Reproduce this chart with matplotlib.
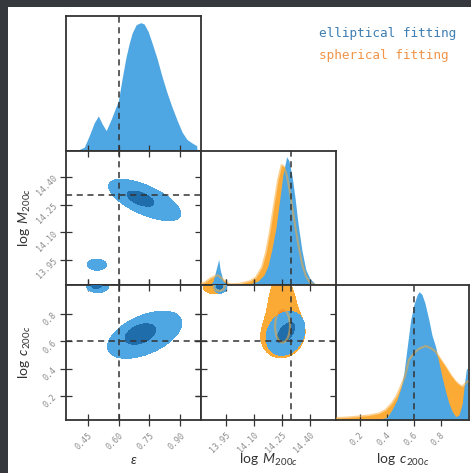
import numpy as np
import matplotlib
matplotlib.use('Agg')
import matplotlib.pyplot as plt
from matplotlib.patches import Rectangle

# ---------------- data ----------------
# 1D marginal: ellipticity (elliptical fitting only)
eps_x = [0.345, 0.352, 0.400, 0.434, 0.458, 0.482, 0.502, 0.521, 0.540, 0.565,
         0.584, 0.599, 0.618, 0.636, 0.652, 0.666, 0.686, 0.708, 0.724, 0.744,
         0.763, 0.787, 0.811, 0.836, 0.860, 0.884, 0.908, 0.932, 0.957, 0.979,
         0.981, 1.0]
eps_ell = [0.0, 0.0, 0.005, 0.03, 0.12, 0.22, 0.273, 0.21, 0.159, 0.25,
           0.33, 0.39, 0.57, 0.73, 0.84, 0.92, 0.985, 1.0, 0.99, 0.93,
           0.84, 0.72, 0.58, 0.45, 0.34, 0.24, 0.148, 0.09, 0.062, 0.041,
           0.0, 0.0]

# 1D marginal: log M200c
m_x_ell = [13.815, 13.864, 13.880, 13.896, 13.910, 13.918, 13.934, 13.961, 14.025,
           14.079, 14.121, 14.154, 14.175, 14.196, 14.218, 14.239, 14.255, 14.275,
           14.287, 14.304, 14.320, 14.336, 14.357, 14.378, 14.400, 14.427, 14.464, 14.54]
m_ell = [0.0, 0.0, 0.03, 0.12, 0.20, 0.12, 0.03, 0.005, 0.005,
         0.01, 0.03, 0.08, 0.15, 0.28, 0.45, 0.68, 0.86, 1.0,
         0.97, 0.85, 0.68, 0.48, 0.27, 0.12, 0.05, 0.01, 0.0, 0.0]
m_x_sph = [13.815, 13.837, 13.864, 13.891, 13.907, 13.928, 13.950, 13.971, 14.025,
           14.079, 14.111, 14.143, 14.164, 14.186, 14.207, 14.229, 14.248, 14.261,
           14.277, 14.293, 14.314, 14.336, 14.357, 14.378, 14.400, 14.427, 14.54]
m_sph = [0.01, 0.02, 0.05, 0.07, 0.075, 0.05, 0.02, 0.005, 0.01,
         0.03, 0.06, 0.14, 0.25, 0.42, 0.62, 0.82, 0.935, 0.92,
         0.85, 0.72, 0.52, 0.33, 0.17, 0.07, 0.02, 0.0, 0.0]

# 1D marginal: log c200c
c_x_ell = [0.025, 0.269, 0.343, 0.402, 0.439, 0.476, 0.506, 0.528, 0.550, 0.578,
           0.602, 0.624, 0.639, 0.661, 0.684, 0.713, 0.736, 0.763, 0.787, 0.810,
           0.837, 0.861, 0.884, 0.911, 0.936, 0.960, 0.976, 0.991, 0.998, 1.0]
c_ell = [0.0, 0.0, 0.005, 0.02, 0.08, 0.156, 0.25, 0.366, 0.55, 0.779,
         0.9, 0.97, 1.0, 0.98, 0.91, 0.779, 0.66, 0.571, 0.45, 0.337,
         0.22, 0.132, 0.07, 0.026, 0.04, 0.13, 0.28, 0.40, 0.40, 0.0]
c_x_sph = [0.025, 0.121, 0.269, 0.343, 0.393, 0.439, 0.476, 0.504, 0.536, 0.565,
           0.602, 0.639, 0.689, 0.728, 0.763, 0.800, 0.837, 0.874, 0.911, 0.936,
           0.960, 0.979, 0.998]
c_sph = [0.015, 0.02, 0.035, 0.05, 0.078, 0.13, 0.19, 0.259, 0.34, 0.468,
         0.52, 0.555, 0.577, 0.56, 0.532, 0.47, 0.413, 0.35, 0.299, 0.275,
         0.26, 0.28, 0.30]

# 2D credible regions, Gaussian components: (x0, y0, half-width x, half-width y, correlation)
em_ell_95 = [(0.727, 14.275, 0.175, 0.112, -0.66), (0.495, 13.925, 0.046, 0.030, 0.0)]
em_ell_68 = [(0.707, 14.282, 0.065, 0.041, -0.55)]
ec_ell_95 = [(0.727, 0.647, 0.180, 0.172, 0.50), (0.498, 1.000, 0.053, 0.045, 0.0)]
ec_ell_68 = [(0.706, 0.652, 0.074, 0.075, 0.40), (0.492, 1.005, 0.024, 0.020, 0.0)]
mc_ell_95 = [(14.269, 0.657, 0.104, 0.160, 0.20), (13.918, 0.995, 0.035, 0.045, 0.0)]
mc_ell_68 = [(14.271, 0.662, 0.047, 0.073, 0.55), (13.915, 1.000, 0.015, 0.020, 0.0)]
mc_sph_95 = [(14.255, 0.650, 0.118, 0.170, 0.10), (14.248, 0.930, 0.050, 0.130, 0.0),
             (13.886, 1.000, 0.059, 0.055, 0.0)]
mc_sph_68 = [(14.253, 0.711, 0.040, 0.120, 0.0), (13.912, 0.998, 0.030, 0.030, 0.0)]

# true values (dashed lines)
eps_true = 0.60
m_true = 14.30
c_true = 0.60

eps_ticks = [0.45, 0.60, 0.75, 0.90]
m_ticks = [13.95, 14.10, 14.25, 14.40]
c_ticks = [0.2, 0.4, 0.6, 0.8]
eps_labels = ['0.45', '0.60', '0.75', '0.90']
m_labels = ['13.95', '14.10', '14.25', '14.40']
c_labels = ['0.2', '0.4', '0.6', '0.8']

legend_labels = ['elliptical fitting', 'spherical fitting']

# ---------------- style ----------------
BLUE = '#4ea6e2'
BLUE_D = '#1f6eab'
ORANGE = '#fbab35'
ORANGE_D = '#f2892a'
SPINE = '#333333'
TICKLAB = '#8c8c8c'
MONO = 'DejaVu Sans Mono'

plt.rcParams['mathtext.fontset'] = 'custom'
plt.rcParams['mathtext.rm'] = 'Lato'
plt.rcParams['mathtext.it'] = 'Lato:italic'

EPS_LIM = (0.345, 1.0)
M_LIM = (13.815, 14.54)
C_LIM = (0.025, 1.01)

W, H = 471, 473
fig = plt.figure(figsize=(W / 100, H / 100), dpi=100)
fig.patch.set_facecolor('#35383d')
fig.add_artist(Rectangle((8 / W, 0), 1, 1 - 7 / H, transform=fig.transFigure,
                         facecolor='white', edgecolor='none', zorder=-5))

col_x = [66, 201, 336]
col_w = [135, 135, 133]
row_y = [16, 151, 285]
row_h = [135, 134, 135]


def make_ax(r, c):
    ax = fig.add_axes([col_x[c] / W, 1 - (row_y[r] + row_h[r]) / H,
                       col_w[c] / W, row_h[r] / H])
    for s in ax.spines.values():
        s.set_color(SPINE)
        s.set_linewidth(1.3)
    ax.tick_params(direction='inout', length=8, width=0.9, color=SPINE,
                   labelsize=6, labelcolor=TICKLAB)
    return ax


def field(comps, X, Y):
    F = np.zeros_like(X)
    for x0, y0, hx, hy, rho in comps:
        u = (X - x0) / hx
        v = (Y - y0) / hy
        F += np.exp(-0.5 * (u * u - 2 * rho * u * v + v * v) / (1 - rho * rho))
    return F


LEV = np.exp(-0.5)


def grid(xlim, ylim):
    gx = np.linspace(xlim[0], xlim[1], 400)
    gy = np.linspace(ylim[0], ylim[1], 400)
    return np.meshgrid(gx, gy)


def fill_region(ax, comps, xlim, ylim, color, z):
    X, Y = grid(xlim, ylim)
    ax.contourf(X, Y, field(comps, X, Y), levels=[LEV, 1e9], colors=[color], zorder=z)


def line_region(ax, comps, xlim, ylim, color, z):
    X, Y = grid(xlim, ylim)
    ax.contour(X, Y, field(comps, X, Y), levels=[LEV], colors=[color],
               linewidths=1.6, alpha=0.55, zorder=z)


def dashed_v(ax, x):
    ax.axvline(x, color=SPINE, ls=(0, (4, 3)), lw=1.1, zorder=10)


def dashed_h(ax, y):
    ax.axhline(y, color=SPINE, ls=(0, (4, 3)), lw=1.1, zorder=10)


def rot_xlabels(ax, ticks, labels):
    ax.set_xticks(ticks)
    ax.set_xticklabels(labels, rotation=45, ha='right', va='top',
                       rotation_mode='anchor', family=MONO)


def rot_ylabels(ax, ticks, labels):
    ax.set_yticks(ticks)
    ax.set_yticklabels(labels, rotation=45, ha='right', va='center',
                       rotation_mode='anchor', family=MONO)


def one_d(ax, ticks):
    ax.set_yticks([])
    ax.set_xticks(ticks)
    ax.tick_params(axis='x', top=False, bottom=True, labelbottom=False)


def two_d(ax):
    ax.tick_params(top=True, right=True, labelbottom=False, labelleft=False)


def set_ylab(ax, text):
    ax.set_ylabel(text, fontsize=10, color='#333333')
    ax.yaxis.set_label_coords(-41 / 135, 0.5)
    ax.yaxis.label.set_va('center')


def set_xlab(ax, text):
    ax.set_xlabel(text, fontsize=10, color='#333333')
    ax.xaxis.set_label_coords(0.5, -40 / 135)
    ax.xaxis.label.set_va('center')


# ---- (0,0) eps marginal
ax = make_ax(0, 0)
ax.fill_between(eps_x, 0, eps_ell, color=BLUE, lw=0, zorder=2)
ax.set_xlim(*EPS_LIM)
ax.set_ylim(0, 1.052)
one_d(ax, eps_ticks)
dashed_v(ax, eps_true)

# ---- (1,0) eps vs M
ax = make_ax(1, 0)
fill_region(ax, em_ell_95, EPS_LIM, M_LIM, BLUE, 2)
fill_region(ax, em_ell_68, EPS_LIM, M_LIM, BLUE_D, 3)
ax.set_xlim(*EPS_LIM)
ax.set_ylim(*M_LIM)
ax.set_xticks(eps_ticks)
two_d(ax)
rot_ylabels(ax, m_ticks, m_labels)
ax.tick_params(labelleft=True)
dashed_v(ax, eps_true)
dashed_h(ax, m_true)
set_ylab(ax, r'$\log\ M_{200c}$')

# ---- (1,1) M marginal
ax = make_ax(1, 1)
ax.fill_between(m_x_sph, 0, m_sph, color=ORANGE, lw=0, zorder=1)
ax.fill_between(m_x_ell, 0, m_ell, color=BLUE, lw=0, zorder=2)
ax.plot(m_x_sph, m_sph, color=ORANGE, lw=1.5, alpha=0.55, zorder=3)
ax.set_xlim(*M_LIM)
ax.set_ylim(0, 1.045)
one_d(ax, m_ticks)
dashed_v(ax, m_true)

# ---- (2,0) eps vs c
ax = make_ax(2, 0)
fill_region(ax, ec_ell_95, EPS_LIM, C_LIM, BLUE, 2)
fill_region(ax, ec_ell_68, EPS_LIM, C_LIM, BLUE_D, 3)
ax.set_xlim(*EPS_LIM)
ax.set_ylim(*C_LIM)
two_d(ax)
rot_xlabels(ax, eps_ticks, eps_labels)
rot_ylabels(ax, c_ticks, c_labels)
ax.tick_params(labelleft=True, labelbottom=True)
dashed_v(ax, eps_true)
dashed_h(ax, c_true)
set_ylab(ax, r'$\log\ c_{200c}$')
set_xlab(ax, r'$\varepsilon$')

# ---- (2,1) M vs c
ax = make_ax(2, 1)
fill_region(ax, mc_sph_95, M_LIM, C_LIM, ORANGE, 1)
fill_region(ax, mc_sph_68, M_LIM, C_LIM, ORANGE_D, 2)
fill_region(ax, mc_ell_95, M_LIM, C_LIM, BLUE, 3)
fill_region(ax, mc_ell_68, M_LIM, C_LIM, BLUE_D, 4)
line_region(ax, mc_sph_68, M_LIM, C_LIM, ORANGE, 5)
ax.set_xlim(*M_LIM)
ax.set_ylim(*C_LIM)
ax.set_yticks(c_ticks)
two_d(ax)
rot_xlabels(ax, m_ticks, m_labels)
ax.tick_params(labelbottom=True)
dashed_v(ax, m_true)
dashed_h(ax, c_true)
set_xlab(ax, r'$\log\ M_{200c}$')

# ---- (2,2) c marginal
ax = make_ax(2, 2)
ax.fill_between(c_x_sph, 0, c_sph, color=ORANGE, lw=0, zorder=1)
ax.fill_between(c_x_ell, 0, c_ell, color=BLUE, lw=0, zorder=2)
ax.plot(c_x_sph, c_sph, color=ORANGE, lw=1.5, alpha=0.55, zorder=3)
ax.set_xlim(*C_LIM)
ax.set_ylim(0, 1.052)
one_d(ax, c_ticks)
rot_xlabels(ax, c_ticks, c_labels)
ax.tick_params(labelbottom=True)
dashed_v(ax, c_true)
set_xlab(ax, r'$\log\ c_{200c}$')

# ---- legend text
fig.text(319 / W, 1 - 34 / H, legend_labels[0], color='#3f7fb3', family=MONO,
         fontsize=9.2, va='center', ha='left')
fig.text(319 / W, 1 - 55 / H, legend_labels[1], color='#f0954a', family=MONO,
         fontsize=9.2, va='center', ha='left')

fig.savefig('out.png', dpi=100)
